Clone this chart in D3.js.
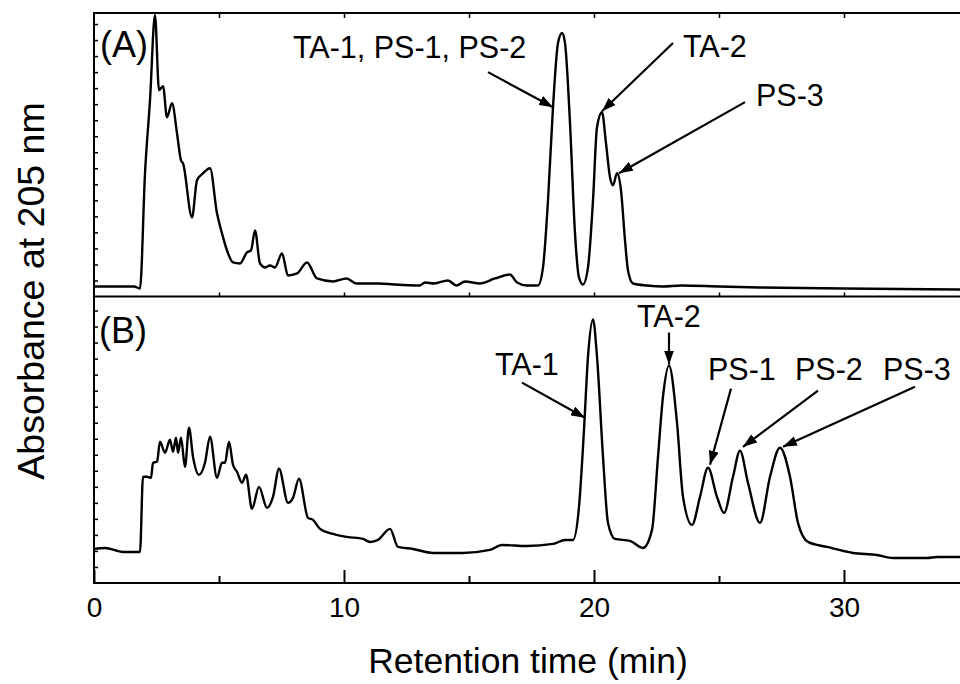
<!DOCTYPE html>
<html>
<head>
<meta charset="utf-8">
<script src="https://cdn.jsdelivr.net/npm/d3@7"></script>
<style>
  body { margin: 0; background: #fff; }
  svg { display: block; font-family: "Liberation Sans", Arial, sans-serif; }
  .frame { stroke: #000; stroke-width: 2; fill: none; }
  .trace { stroke: #000; stroke-width: 2.4; fill: none; stroke-linejoin: round; }
  .arrow { stroke: #000; stroke-width: 2.2; }
  .ann { font-size: 30.5px; fill: #000; }
  .tag { font-size: 36px; fill: #000; }
</style>
</head>
<body>
<script>
// retention times (min) and relative absorbance
const timesA = [0, 1.6, 1.84, 2.04, 2.24, 2.44, 2.6, 2.76, 2.92, 3.12, 3.32, 3.48, 3.56, 3.92, 4.12, 4.36, 4.64, 4.92, 5.12, 5.32, 5.56, 5.84, 6.12, 6.28, 6.44, 6.64, 6.84, 7.04, 7.24, 7.52, 7.76, 8.12, 8.52, 8.92, 9.56, 10.1, 10.5, 11.0, 11.4, 12.0, 13.04, 13.24, 13.6, 14.16, 14.5, 14.84, 15.44, 16.04, 16.64, 16.92, 17.32, 17.76, 17.96, 18.16, 18.36, 18.56, 18.72, 18.84, 19.04, 19.24, 19.4, 19.56, 19.76, 19.96, 20.12, 20.32, 20.48, 20.64, 20.76, 20.92, 21.08, 21.24, 21.36, 21.56, 22.12, 22.76, 23.5, 25, 26.64, 30, 35];
const valuesA = [10, 10, 8, 123, 196, 281, 206, 210, 179, 193, 163, 136, 133, 79, 116, 123, 128, 83, 63, 46, 34, 33, 44, 46, 66, 33, 29, 31, 29, 43, 21, 23, 34, 18, 15, 18, 13, 13, 13, 12, 11, 14, 13, 16, 11, 15, 13, 18, 22, 14, 11, 11, 29, 96, 189, 253, 263, 253, 173, 63, 19, 12, 29, 96, 169, 184, 153, 119, 111, 123, 106, 56, 26, 13, 11, 10, 11, 10, 9, 8, 7];

const timesB = [0, 0.44, 1.16, 1.84, 1.96, 2.12, 2.28, 2.36, 2.52, 2.64, 2.84, 3.04, 3.16, 3.28, 3.36, 3.48, 3.64, 3.8, 3.96, 4.2, 4.44, 4.64, 4.92, 5.12, 5.24, 5.4, 5.56, 5.72, 5.92, 6.08, 6.32, 6.6, 6.92, 7.16, 7.4, 7.76, 7.96, 8.2, 8.56, 8.76, 9.04, 9.56, 10.12, 10.76, 11.04, 11.36, 11.84, 12.16, 12.76, 13.56, 14.76, 15.84, 16.32, 17.32, 18.36, 18.84, 19.16, 19.4, 19.6, 19.76, 19.96, 20.12, 20.36, 20.56, 20.84, 21.44, 21.96, 22.32, 22.56, 22.76, 23.0, 23.32, 23.56, 23.92, 24.24, 24.56, 24.92, 25.2, 25.56, 25.84, 26.16, 26.64, 27.04, 27.44, 27.84, 28.16, 28.56, 29.32, 30.36, 31.32, 31.96, 33.32, 33.72, 35];
const valuesB = [34, 35, 31, 31, 106, 106, 105, 120, 121, 141, 130, 143, 131, 145, 130, 145, 116, 155, 126, 108, 120, 146, 105, 120, 120, 141, 118, 111, 100, 108, 74, 96, 75, 86, 114, 80, 85, 104, 65, 63, 54, 49, 46, 44, 41, 43, 54, 36, 34, 30, 30, 33, 38, 37, 39, 43, 43, 76, 153, 226, 263, 226, 126, 60, 44, 42, 35, 53, 126, 186, 217, 160, 86, 58, 86, 115, 86, 70, 106, 132, 100, 60, 106, 135, 106, 60, 41, 36, 30, 28, 25, 25, 26, 26];

const majorTicks = [0, 10, 20, 30];
const minorTicks = [5, 15, 25, 35];

// panel tags and peak annotations: [label, labelTime, labelValue]
const tagA = [["(A)", 0.24, 239]];
const tagB = [["(B)", 0.2, 240]];
const labelsA = [["TA-1, PS-1, PS-2", 7.96, 238], ["TA-2", 23.56, 239], ["PS-3", 26.48, 190]];
const labelsB = [["TA-1", 16.04, 208], ["TA-2", 21.72, 256], ["PS-1", 24.56, 203], ["PS-2", 28.04, 203], ["PS-3", 31.56, 203]];
// arrows: [fromTime, fromValue, toTime, toValue]
const arrowsA = [[15.76, 224, 18.36, 189], [23.16, 253, 20.32, 185], [26.04, 194, 21.0, 123]];
const arrowsB = [[17.12, 200, 19.64, 165], [23.0, 250, 23.0, 218], [25.48, 194, 24.64, 118], [28.96, 192, 25.96, 136], [32.84, 196, 27.56, 136]];

const width = 960, height = 684;
const plotLeft = 94, plotTop = 13, plotMid = 296.5, plotBottom = 583;

const svg = d3.select("body").append("svg")
  .attr("width", width)
  .attr("height", height);

svg.append("defs").append("marker")
  .attr("id", "head")
  .attr("viewBox", "0 0 14 10")
  .attr("refX", 14).attr("refY", 5)
  .attr("markerWidth", 14).attr("markerHeight", 10)
  .attr("markerUnits", "userSpaceOnUse")
  .attr("orient", "auto")
  .append("path")
  .attr("d", "M0,0L14,5L0,10Z")
  .attr("fill", "#000");

const x = d3.scaleLinear().domain([0, 35]).range([plotLeft, plotLeft + 25 * 35]);
const yA = d3.scaleLinear().domain([0, 283]).range([plotMid, plotTop]);
const yB = d3.scaleLinear().domain([0, 286]).range([plotBottom, plotMid]);

function panel(times, values, y, tag, labels, arrows) {
  const line = d3.line()
    .x(d => x(d[0]))
    .y(d => y(d[1]))
    .curve(d3.curveMonotoneX);

  svg.append("path")
    .attr("class", "trace")
    .attr("d", line(d3.zip(times, values)));

  svg.append("g").selectAll("line")
    .data(arrows)
    .join("line")
    .attr("class", "arrow")
    .attr("x1", d => x(d[0])).attr("y1", d => y(d[1]))
    .attr("x2", d => x(d[2])).attr("y2", d => y(d[3]))
    .attr("marker-end", "url(#head)");

  svg.append("g").selectAll("text")
    .data(labels)
    .join("text")
    .attr("class", "ann")
    .attr("x", d => x(d[1]))
    .attr("y", d => y(d[2]))
    .text(d => d[0]);

  svg.append("g").selectAll("text")
    .data(tag)
    .join("text")
    .attr("class", "tag")
    .attr("x", d => x(d[1]))
    .attr("y", d => y(d[2]))
    .text(d => d[0]);

  // small inward ticks on the left axis, no labels
  const yAxis = svg.append("g")
    .attr("transform", `translate(${plotLeft},0)`)
    .call(d3.axisLeft(y).tickValues(d3.range(16, y.domain()[1], 16)).tickSize(-4).tickFormat(""));
  yAxis.select(".domain").remove();
  yAxis.selectAll("line").attr("stroke-width", 1.5);
}

panel(timesA, valuesA, yA, tagA, labelsA, arrowsA);
panel(timesB, valuesB, yB, tagB, labelsB, arrowsB);

// frame lines
svg.append("line").attr("class", "frame")
  .attr("x1", plotLeft).attr("x2", width).attr("y1", plotTop).attr("y2", plotTop);
svg.append("line").attr("class", "frame")
  .attr("x1", plotLeft).attr("x2", width).attr("y1", plotMid).attr("y2", plotMid);
svg.append("line").attr("class", "frame")
  .attr("x1", plotLeft).attr("x2", plotLeft).attr("y1", plotTop - 1).attr("y2", plotBottom + 1);

// ticks on top border and on the divider
const allTicks = majorTicks.concat(minorTicks).filter(d => d > 0);
svg.append("g").attr("transform", `translate(0,${plotTop})`)
  .call(d3.axisTop(x).tickValues(allTicks).tickSize(-5).tickFormat(""))
  .call(g => g.select(".domain").remove())
  .selectAll("line").attr("stroke-width", 1.5);
svg.append("g").attr("transform", `translate(0,${plotMid})`)
  .call(d3.axisTop(x).tickValues(allTicks).tickSize(4).tickFormat(""))
  .call(g => g.select(".domain").remove())
  .selectAll("line").attr("stroke-width", 1.5);

// bottom axis
const xAxis = svg.append("g")
  .attr("transform", `translate(0,${plotBottom})`)
  .call(d3.axisBottom(x).tickValues(majorTicks).tickSize(-13).tickPadding(14).tickFormat(d3.format("d")));
xAxis.select(".domain").attr("d", `M${plotLeft},0H${width}`).attr("stroke-width", 2);
xAxis.selectAll("line").attr("stroke-width", 2);
xAxis.selectAll("text")
  .attr("font-family", "'Liberation Sans', Arial, sans-serif")
  .attr("font-size", 28)
  .attr("fill", "#000");

svg.append("g")
  .attr("transform", `translate(0,${plotBottom})`)
  .call(d3.axisBottom(x).tickValues(minorTicks).tickSize(-7).tickFormat(""))
  .call(g => g.select(".domain").remove())
  .selectAll("line").attr("stroke-width", 2);

svg.append("text")
  .attr("x", 528)
  .attr("y", 673)
  .attr("text-anchor", "middle")
  .attr("font-size", 35.5)
  .text("Retention time (min)");

svg.append("text")
  .attr("transform", "translate(44,291) rotate(-90)")
  .attr("text-anchor", "middle")
  .attr("font-size", 37.5)
  .text("Absorbance at 205 nm");
</script>
</body>
</html>
